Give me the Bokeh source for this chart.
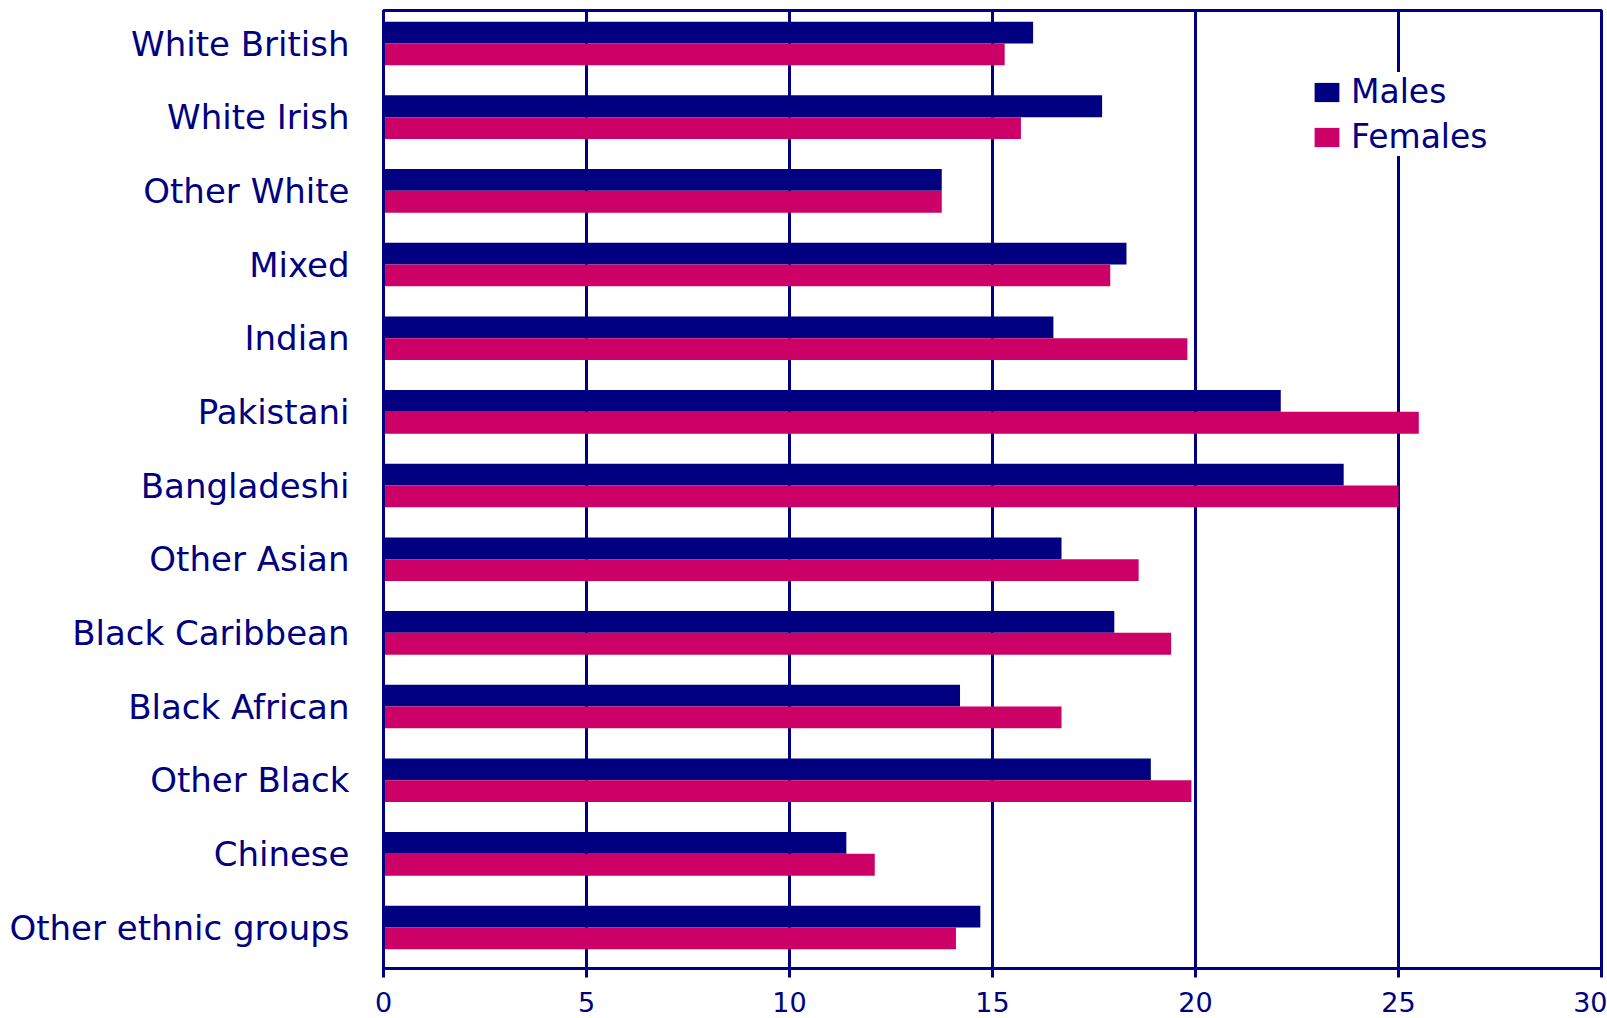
from bokeh.plotting import figure
from bokeh.models import ColumnDataSource, Range1d, FixedTicker
from bokeh.transform import dodge
from bokeh.embed import file_html
from bokeh.resources import INLINE

# Ethnic groups, top to bottom
groups = ["White British", "White Irish", "Other White", "Mixed", "Indian",
          "Pakistani", "Bangladeshi", "Other Asian", "Black Caribbean",
          "Black African", "Other Black", "Chinese", "Other ethnic groups"]
males = [16.0, 17.7, 13.75, 18.3, 16.5, 22.1, 23.65, 16.7, 18.0, 14.2, 18.9, 11.4, 14.7]
females = [15.3, 15.7, 13.75, 17.9, 19.8, 25.5, 25.0, 18.6, 19.4, 16.7, 19.9, 12.1, 14.1]
x_ticks = [0, 5, 10, 15, 20, 25, 30]

NAVY = "#000080"
MAGENTA = "#CC0066"
FONT = "DejaVu Sans"

# one row per group, first group at the top
n = len(groups)
row = [n - 1 - i for i in range(n)]

src = ColumnDataSource(dict(row=row, group=groups, males=males, females=females))

p = figure(width=1607, height=1018,
           y_range=Range1d(-0.556, n - 1 + 0.448),
           x_range=Range1d(0, 30),
           output_backend="svg", toolbar_location=None,
           min_border_left=383, min_border_right=6,
           min_border_top=10, min_border_bottom=50)

p.hbar(y=dodge("row", 0.148), left=0, right="males",
       height=0.296, source=src, fill_color=NAVY, line_color=None,
       legend_label="Males")
p.hbar(y=dodge("row", -0.148), left=0, right="females",
       height=0.296, source=src, fill_color=MAGENTA, line_color=None,
       legend_label="Females")

# frame and grid
p.outline_line_color = NAVY
p.outline_line_width = 3
p.outline_line_alpha = 1
p.background_fill_color = "white"
p.border_fill_color = "white"
p.ygrid.grid_line_color = None
p.xgrid.grid_line_color = NAVY
p.xgrid.grid_line_width = 3
p.xgrid.grid_line_alpha = 1
p.xgrid.ticker = FixedTicker(ticks=x_ticks)

# x axis
xa = p.xaxis[0]
xa.ticker = FixedTicker(ticks=x_ticks)
xa.axis_line_color = NAVY
xa.axis_line_width = 3
xa.major_tick_line_color = NAVY
xa.major_tick_line_width = 3
xa.major_tick_out = 9
xa.major_tick_in = 0
xa.minor_tick_line_color = None
xa.major_label_text_color = NAVY
xa.major_label_text_font = FONT
xa.major_label_text_font_size = "27px"
xa.major_label_standoff = 14

# y axis: group names at each row
ya = p.yaxis[0]
ya.ticker = FixedTicker(ticks=row)
ya.major_label_overrides = {r: g for r, g in zip(row, groups)}
ya.axis_line_color = NAVY
ya.axis_line_width = 3
ya.major_tick_line_color = None
ya.minor_tick_line_color = None
ya.major_tick_out = 0
ya.major_tick_in = 0
ya.major_label_text_color = NAVY
ya.major_label_text_font = FONT
ya.major_label_text_font_size = "34px"
ya.major_label_standoff = 34

# legend
lg = p.legend[0]
lg.location = (928, 812)
lg.label_text_font = FONT
lg.label_text_font_size = "33px"
lg.label_text_color = NAVY
lg.glyph_width = 31
lg.glyph_height = 24
lg.label_standoff = 9
lg.label_height = 30
lg.spacing = 6
lg.padding = 9
lg.margin = 0
lg.border_line_color = None
lg.background_fill_color = "white"
lg.background_fill_alpha = 1

open("out.html", "w").write(file_html(p, INLINE))
